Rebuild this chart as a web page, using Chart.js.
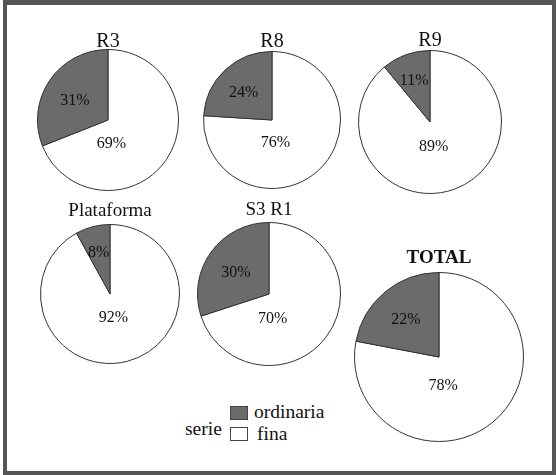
<!DOCTYPE html>
<html lang="es">
<head>
    <meta charset="UTF-8">
    <title>Ordinaria / fina</title>
    <script src="https://cdn.jsdelivr.net/npm/chart.js"></script>
    <style>
        body {
            margin: 0;
            background: #fff;
            font-family: "Liberation Serif", "DejaVu Serif", serif;
        }
        #frame {
            position: absolute;
            left: 3px;
            top: 0;
            width: 545px;
            height: 466px;
            border-style: solid;
            border-color: #555;
            border-width: 5px 4px 4px 4px;
        }
        canvas {
            position: absolute;
        }
        .txt {
            position: absolute;
            font-size: 19.5px;
            line-height: 19px;
            color: #111;
            white-space: nowrap;
        }
        .swatch {
            position: absolute;
            width: 16px;
            height: 12px;
            border: 1px solid #444;
        }
    </style>
</head>
<body>
    <div id="frame"></div>
    <div id="charts"></div>

    <script>
        // datos
        const categorias = ['R3', 'R8', 'R9', 'Plataforma', 'S3 R1', 'TOTAL'];
        const ordinaria = [31, 24, 11, 8, 30, 22];
        const fina = [69, 76, 89, 92, 70, 78];
        const series = ['ordinaria', 'fina'];
        const colores = ['#6b6b6b', '#ffffff'];

        // posición de cada tarta en la página (centro, radio, alto del título)
        const layout = [
            { cx: 107.5, cy: 120, r: 71, lh: 15, font: { size: 20 } },
            { cx: 271.5, cy: 120, r: 69, lh: 19, font: { size: 20 } },
            { cx: 430,   cy: 121.5, r: 72, lh: 19, font: { size: 20 } },
            { cx: 110,   cy: 294, r: 70, lh: 26, font: { size: 19 } },
            { cx: 269,   cy: 294, r: 72, lh: 24, font: { size: 19 } },
            { cx: 438.5, cy: 357, r: 85, lh: 28, font: { size: 19, weight: 'bold' } }
        ];

        const PAD = 2;

        // etiquetas de porcentaje dentro de cada porción
        const pctLabels = {
            id: 'pctLabels',
            afterDatasetsDraw(chart) {
                const ctx = chart.ctx;
                const meta = chart.getDatasetMeta(0);
                const data = chart.data.datasets[0].data;
                ctx.save();
                ctx.font = '16px "Liberation Serif", serif';
                ctx.fillStyle = '#111';
                ctx.textAlign = 'center';
                ctx.textBaseline = 'middle';
                meta.data.forEach((arc, i) => {
                    const p = arc.getProps(['x', 'y', 'startAngle', 'endAngle', 'outerRadius'], true);
                    let lx, ly;
                    if (i === 1) {
                        // centroide del sector
                        const th = p.endAngle - p.startAngle;
                        const mid = (p.startAngle + p.endAngle) / 2;
                        const k = 4 * Math.sin(th / 2) / (3 * th);
                        lx = p.x + Math.cos(mid) * p.outerRadius * k;
                        ly = p.y + Math.sin(mid) * p.outerRadius * k + 3;
                    } else {
                        lx = p.x + p.outerRadius * 0.05;
                        ly = p.y + p.outerRadius * 0.34;
                    }
                    ctx.fillText(data[i] + '%', lx, ly);
                });
                ctx.restore();
            }
        };

        const holder = document.getElementById('charts');

        categorias.forEach((cat, i) => {
            const L = layout[i];
            const w = 2 * L.r + 2 * PAD;
            const h = L.lh + 2 * L.r + 2 * PAD;
            const cv = document.createElement('canvas');
            cv.width = w;
            cv.height = h;
            cv.style.width = w + 'px';
            cv.style.height = h + 'px';
            cv.style.left = (L.cx - L.r - PAD) + 'px';
            cv.style.top = (L.cy - L.r - L.lh - PAD) + 'px';
            holder.appendChild(cv);

            new Chart(cv.getContext('2d'), {
                type: 'pie',
                data: {
                    labels: [series[1], series[0]],
                    datasets: [{
                        data: [fina[i], ordinaria[i]],
                        backgroundColor: [colores[1], colores[0]],
                        borderColor: '#333',
                        borderWidth: 1
                    }]
                },
                options: {
                    responsive: false,
                    animation: false,
                    events: [],
                    layout: { padding: PAD },
                    plugins: {
                        legend: { display: false },
                        tooltip: { enabled: false },
                        title: {
                            display: true,
                            text: cat,
                            color: '#111',
                            padding: 0,
                            font: {
                                family: '"Liberation Serif", serif',
                                size: L.font.size,
                                weight: L.font.weight || 'normal',
                                lineHeight: L.lh / L.font.size
                            }
                        }
                    }
                },
                plugins: [pctLabels]
            });
        });

        // leyenda
        function addText(text, left, top) {
            const d = document.createElement('div');
            d.className = 'txt';
            d.textContent = text;
            d.style.left = left + 'px';
            d.style.top = top + 'px';
            document.body.appendChild(d);
        }
        function addSwatch(color, left, top) {
            const d = document.createElement('div');
            d.className = 'swatch';
            d.style.background = color;
            d.style.left = left + 'px';
            d.style.top = top + 'px';
            document.body.appendChild(d);
        }
        addText('serie', 185, 419);
        addSwatch(colores[0], 230, 406);
        addSwatch(colores[1], 230, 427);
        addText(series[0], 254, 402);
        addText(series[1], 257, 424);
    </script>
</body>
</html>
